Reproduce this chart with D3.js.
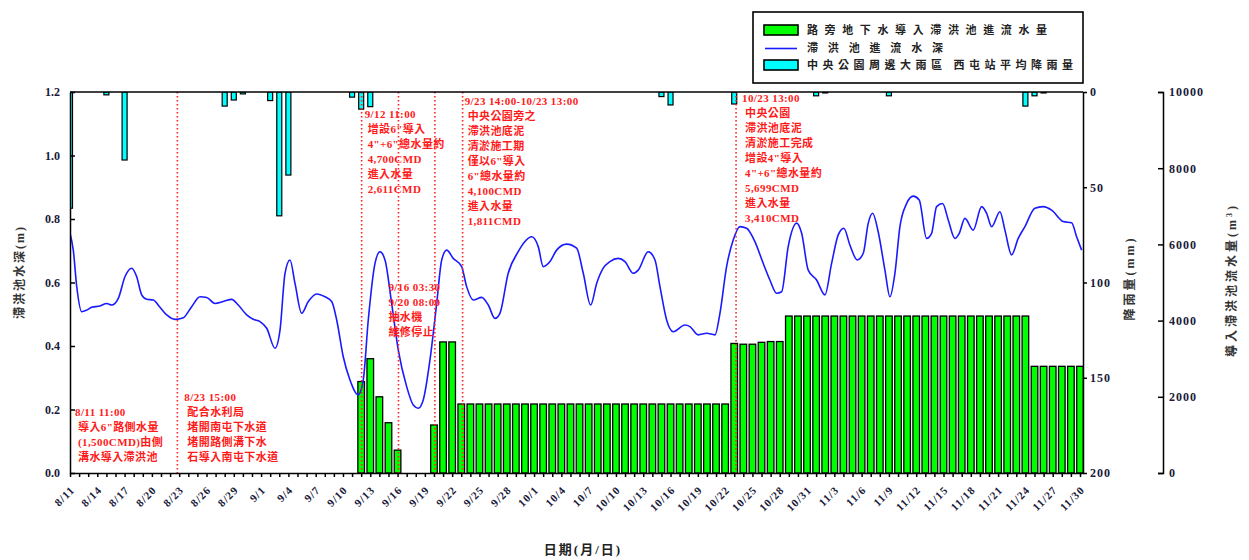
<!DOCTYPE html>
<html>
<head>
<meta charset="utf-8">
<script src="https://cdn.jsdelivr.net/npm/d3@7"></script>
<style>
body { margin: 0; background: #fff; }
text { font-family: "Liberation Serif", "Noto Sans CJK TC", serif; font-weight: bold; }
</style>
</head>
<body>
<div class="graph"></div>
<script>
/*---------- DATA ----------*/

//x tick labels, one every 3 days starting at 8/11 (day 0)
const tickLabels = ["8/11","8/14","8/17","8/20","8/23","8/26","8/29","9/1","9/4","9/7","9/10","9/13","9/16","9/19","9/22","9/25","9/28","10/1","10/4","10/7","10/10","10/13","10/16","10/19","10/22","10/25","10/28","10/31","11/3","11/6","11/9","11/12","11/15","11/18","11/21","11/24","11/27","11/30"];

//daily inflow into detention pond (CMD), day 32 (9/12) .. day 111 (11/30)
const flowStartDay = 32;
const flowValues = [2400,3000,2000,1320,600,0,0,0,1260,3440,3440,
    1811,1811,1811,1811,1811,1811,1811,1811,1811,1811,1811,1811,1811,1811,1811,
    1811,1811,1811,1811,1811,1811,1811,1811,1811,1811,1811,1811,1811,1811,1811,
    3400,3380,3380,3430,3450,3450,
    4120,4120,4120,4120,4120,4120,4120,4120,4120,4120,4120,4120,4120,4120,
    4120,4120,4120,4120,4120,4120,4120,4120,4120,4120,4120,4120,4120,
    2800,2800,2800,2800,2800,2800];

//rainfall (mm), day offset from 8/11
const rainDays = [0,4,6,17,18,19,22,23,24,31,32,33,65,66,73,82,83,90,105,106,107];
const rainValues = [61,1.5,35.7,7.4,4.2,1,4.5,65,43.6,2.7,9,7.7,2.4,6.8,6.3,2,0.5,2,7.4,2,0.5];

//pond water depth (m), day offset from 8/11
const depthDays = [0,0.36,0.74,1.29,1.84,2.38,3.3,4.03,4.58,5.31,6.04,6.78,7.33,7.88,8.43,9.15,9.89,10.63,11.54,12.45,
    13.37,14.29,15.02,15.93,16.85,17.77,18.49,19.42,20.14,20.88,21.62,22.53,23.08,23.63,24.18,24.73,25.46,26.19,27.11,28.02,
    28.76,29.31,30.03,30.77,31.68,32.23,32.78,33.52,34.07,34.62,35.35,36.08,37.0,37.73,38.27,38.82,39.56,40.3,40.85,41.4,
    42.12,43.04,43.59,44.32,45.24,45.97,46.7,47.25,48.16,49.26,50.0,50.74,51.46,52.01,52.75,53.48,54.58,55.68,56.41,57.22,
    57.88,58.6,59.34,60.25,60.99,61.9,62.45,63.55,64.29,64.84,65.57,66.3,67.58,68.13,69.04,69.97,70.88,71.43,72.16,72.89,
    73.63,74.36,75.27,76.19,76.92,77.66,78.21,78.93,79.86,80.41,81.13,82.05,82.97,83.7,84.43,85.05,85.71,86.52,87.18,87.73,
    88.21,88.82,89.56,90.11,90.66,91.21,91.95,92.67,93.33,94.14,94.69,95.24,95.9,96.52,97.25,97.73,98.35,99.26,100.19,100.74,
    101.29,102.2,102.75,103.48,104.21,104.95,106.04,106.96,107.88,109.15,110.08,110.63,111.18];
const depthValues = [0.755,0.702,0.587,0.508,0.513,0.522,0.526,0.534,0.529,0.55,0.618,0.645,0.618,0.561,0.547,0.545,0.522,0.498,0.484,0.489,
    0.524,0.555,0.553,0.534,0.54,0.547,0.529,0.498,0.484,0.477,0.456,0.393,0.45,0.629,0.671,0.597,0.503,0.54,0.564,0.555,
    0.54,0.482,0.366,0.293,0.246,0.293,0.482,0.66,0.697,0.671,0.534,0.387,0.272,0.214,0.204,0.23,0.356,0.534,0.671,0.702,
    0.676,0.65,0.587,0.545,0.553,0.529,0.487,0.503,0.629,0.697,0.729,0.744,0.713,0.65,0.666,0.702,0.721,0.708,0.629,0.529,
    0.597,0.645,0.666,0.676,0.666,0.629,0.639,0.697,0.671,0.587,0.482,0.445,0.466,0.461,0.435,0.44,0.435,0.503,0.65,0.734,
    0.776,0.771,0.729,0.66,0.608,0.566,0.571,0.713,0.787,0.755,0.639,0.608,0.561,0.66,0.75,0.771,0.718,0.671,0.692,0.787,
    0.818,0.76,0.639,0.555,0.629,0.776,0.849,0.872,0.86,0.739,0.755,0.839,0.849,0.797,0.739,0.755,0.802,0.765,0.839,0.818,
    0.776,0.823,0.765,0.687,0.739,0.776,0.834,0.839,0.828,0.792,0.788,0.744,0.702];

//event markers (day offset from 8/11)
const eventDays = [11.8, 32.05, 36.1, 40.1, 43.15, 73.2];

//annotation texts
const noteTexts = [
    ["8/11 11:00", "導入6\"路側水量", "(1,500CMD)由側", "溝水導入滯洪池"],
    ["8/23 15:00", "配合水利局", "堵開南屯下水道", "堵開路側溝下水", "石導入南屯下水道"],
    ["9/12 11:00", "增設6\"導入", "4\"+6\"總水量約", "4,700CMD", "進入水量", "2,611CMD"],
    ["9/16 03:30", "9/20 08:00", "抽水機", "維修停止"],
    ["9/23 14:00-10/23 13:00", "中央公園旁之", "滯洪池底泥", "清淤施工期", "僅以6\"導入", "6\"總水量約", "4,100CMD", "進入水量", "1,811CMD"],
    ["10/23 13:00", "中央公園", "滯洪池底泥", "清淤施工完成", "增設4\"導入", "4\"+6\"總水量約", "5,699CMD", "進入水量", "3,410CMD"]
];
const legendTexts = ["路旁地下水導入滯洪池進流水量", "滯洪池進流水深", "中央公園周邊大雨區 西屯站平均降雨量"];

/*---------- LAYOUT ----------*/

const SIZE = {X: 1249, Y: 560};
const PLOT = {LEFT: 70, RIGHT: 1083, TOP: 92, BOTTOM: 473};

//annotation anchors: day, pixel offset from the day, first line y
const noteLayout = [
    {t: 0, dx: 5, y: 416}, {t: 11.8, dx: 7, y: 401}, {t: 32.05, dx: 3, y: 118},
    {t: 36.1, dx: -10, y: 291}, {t: 43.15, dx: 2, y: 105}, {t: 73.2, dx: 6, y: 102}
];

const svg = d3.select(".graph").append("svg")
    .attr("width", SIZE.X)
    .attr("height", SIZE.Y);

svg.append("rect").attr("width", SIZE.X).attr("height", SIZE.Y).attr("fill", "#fff");

//scales
const x = d3.scaleLinear().domain([0, 111.33]).range([PLOT.LEFT, PLOT.RIGHT]);
const yDepth = d3.scaleLinear().domain([0, 1.2]).range([PLOT.BOTTOM, PLOT.TOP]);
const yRain = d3.scaleLinear().domain([0, 200]).range([PLOT.TOP, PLOT.BOTTOM]);
const yFlow = d3.scaleLinear().domain([0, 10000]).range([PLOT.BOTTOM, PLOT.TOP]);

svg.append("clipPath").attr("id", "clip")
  .append("rect")
    .attr("x", PLOT.LEFT).attr("y", PLOT.TOP)
    .attr("width", PLOT.RIGHT - PLOT.LEFT).attr("height", PLOT.BOTTOM - PLOT.TOP);

const plot = svg.append("g").attr("clip-path", "url(#clip)");

//inflow bars
const flow = flowValues.map((v, i) => ({t: flowStartDay + i, v: v})).filter(d => d.v > 0);
plot.append("g").selectAll("rect")
    .data(flow)
    .enter().append("rect")
        .attr("x", d => x(d.t) - 3.3)
        .attr("y", d => yFlow(d.v))
        .attr("width", 6.6)
        .attr("height", d => yFlow(0) - yFlow(d.v))
        .attr("fill", "#00ff00")
        .attr("stroke", "#000")
        .attr("stroke-width", 1.3);

//rain bars hanging from top
plot.append("g").selectAll("rect")
    .data(rainDays.map((t, i) => ({t: t, v: rainValues[i]})))
    .enter().append("rect")
        .attr("x", d => x(d.t) - 2.5)
        .attr("y", yRain(0))
        .attr("width", 5)
        .attr("height", d => yRain(d.v) - yRain(0))
        .attr("fill", "#00ffff")
        .attr("stroke", "#000")
        .attr("stroke-width", 1.2);

//depth line
const line = d3.line()
    .x(d => x(d[0]))
    .y(d => yDepth(d[1]))
    .curve(d3.curveMonotoneX);

plot.append("path")
    .datum(depthDays.map((t, i) => [t, depthValues[i]]))
    .attr("d", line)
    .attr("fill", "none")
    .attr("stroke", "#1a1aff")
    .attr("stroke-width", 1.6);

//event lines
plot.append("g").selectAll("line")
    .data(eventDays)
    .enter().append("line")
        .attr("x1", d => x(d)).attr("x2", d => x(d))
        .attr("y1", PLOT.TOP).attr("y2", PLOT.BOTTOM)
        .attr("stroke", "#ff2020")
        .attr("stroke-width", 1.6)
        .attr("stroke-dasharray", "1.6,2.4");

//annotations
noteTexts.forEach((lines, k) => {
    const lay = noteLayout[k];
    const t = svg.append("text")
        .attr("fill", "#ff1a1a")
        .style("font-size", "11px")
        .style("letter-spacing", "0.4px");
    lines.forEach((s, j) => {
        t.append("tspan")
            .attr("x", x(lay.t) + lay.dx + (j > 0 && k !== 3 ? 3 : 0))
            .attr("y", lay.y + j * 15)
            .text(s);
    });
});

//frame top line
svg.append("line")
    .attr("x1", PLOT.LEFT).attr("x2", PLOT.RIGHT)
    .attr("y1", PLOT.TOP).attr("y2", PLOT.TOP)
    .attr("stroke", "#000").attr("stroke-width", 1.5);

//axes
const xAxis = svg.append("g")
    .attr("transform", `translate(0, ${PLOT.BOTTOM})`)
    .call(d3.axisBottom(x)
        .tickValues(d3.range(0, 112))
        .tickSize(4).tickSizeOuter(0)
        .tickFormat(d => d % 3 === 0 ? tickLabels[d / 3] : ""));
xAxis.selectAll("text")
    .attr("y", 0).attr("dy", "0.35em")
    .attr("transform", "translate(2, 15) rotate(-45)")
    .style("text-anchor", "end")
    .style("font-size", "11px")
    .style("letter-spacing", "1px");

const yAxis = svg.append("g")
    .attr("transform", `translate(${PLOT.LEFT}, 0)`)
    .call(d3.axisLeft(yDepth).tickValues([0, 0.2, 0.4, 0.6, 0.8, 1.0, 1.2])
        .tickFormat(d3.format(".1f")).tickSize(-5).tickSizeOuter(0).tickPadding(10));

const rainAxis = svg.append("g")
    .attr("transform", `translate(${PLOT.RIGHT}, 0)`)
    .call(d3.axisRight(yRain).tickValues([0, 50, 100, 150, 200])
        .tickSize(4).tickSizeOuter(0).tickPadding(3));

const flowAxis = svg.append("g")
    .attr("transform", "translate(1163, 0)")
    .call(d3.axisRight(yFlow).tickValues([0, 2000, 4000, 6000, 8000, 10000])
        .tickFormat(d3.format("d"))
        .tickSize(-5).tickSizeOuter(-5).tickPadding(6));

svg.selectAll(".domain, .tick line").attr("stroke", "#000").attr("stroke-width", 1.5);
svg.selectAll(".tick text").attr("fill", "#1a1a3a");
yAxis.selectAll("text").style("font-size", "12px");
rainAxis.selectAll("text").style("font-size", "12px").style("letter-spacing", "1px");
flowAxis.selectAll("text").style("font-size", "12px").style("letter-spacing", "1px");

//axis titles
svg.append("text")
    .attr("transform", "translate(24, 272) rotate(-90)")
    .attr("text-anchor", "middle")
    .style("font-size", "12px").style("letter-spacing", "2px")
    .attr("fill", "#333")
    .text("滯洪池水深(m)");

svg.append("text")
    .attr("transform", "translate(1134, 278) rotate(-90)")
    .attr("text-anchor", "middle")
    .style("font-size", "12px").style("letter-spacing", "3px")
    .attr("fill", "#333")
    .text("降雨量(mm)");

svg.append("text")
    .attr("transform", "translate(1236, 280) rotate(-90)")
    .attr("text-anchor", "middle")
    .style("font-size", "12px").style("letter-spacing", "3px")
    .attr("fill", "#333")
    .html("導入滯洪池流水量(m<tspan dy='-4' style='font-size:8px'>3</tspan><tspan dy='4'>)</tspan>");

svg.append("text")
    .attr("x", 583).attr("y", 554)
    .attr("text-anchor", "middle")
    .style("font-size", "13px").style("letter-spacing", "2px")
    .attr("fill", "#222")
    .text("日期(月/日)");

//legend
const legend = svg.append("g");
legend.append("rect")
    .attr("x", 753).attr("y", 12).attr("width", 330).attr("height", 71)
    .attr("fill", "#fff").attr("stroke", "#000").attr("stroke-width", 1.6);
legend.append("rect")
    .attr("x", 764).attr("y", 25).attr("width", 34).attr("height", 10)
    .attr("fill", "#00ff00").attr("stroke", "#000").attr("stroke-width", 1.6);
legend.append("line")
    .attr("x1", 765).attr("x2", 797).attr("y1", 48.5).attr("y2", 48.5)
    .attr("stroke", "#1a1aff").attr("stroke-width", 1.6);
legend.append("rect")
    .attr("x", 764).attr("y", 60).attr("width", 34).attr("height", 10)
    .attr("fill", "#00ffff").attr("stroke", "#000").attr("stroke-width", 1.6);

const legendWidths = [240, 136, 266];
legendTexts.forEach((s, i) => {
    legend.append("text")
        .attr("x", 807).attr("y", 34 + i * 17.5)
        .attr("textLength", legendWidths[i])
        .attr("lengthAdjust", "spacing")
        .style("font-size", "11px")
        .attr("fill", "#222")
        .text(s);
});
</script>
</body>
</html>
